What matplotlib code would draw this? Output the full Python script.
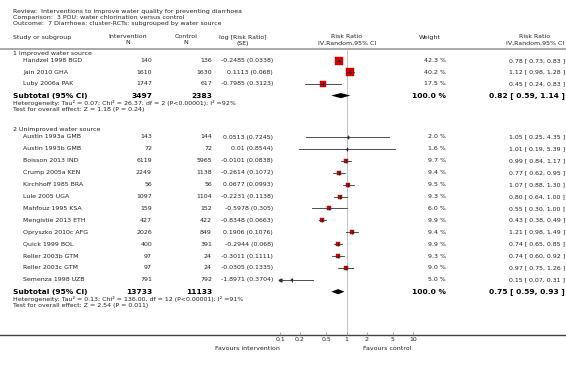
import matplotlib.pyplot as plt

# Header text
review = "Review:  Interventions to improve water quality for preventing diarrhoea"
comparison = "Comparison:  3 POU: water chlorination versus control"
outcome = "Outcome:  7 Diarrhoea: cluster-RCTs: subgrouped by water source"

# Subgroup 1
g1_name = "1 Improved water source"
g1_studies = ["Handzel 1998 BGD", "Jain 2010 GHA", "Luby 2006a PAK"]
g1_int_n = [140, 1610, 1747]
g1_ctl_n = [136, 1630, 617]
g1_logrr = ["-0.2485", "0.1113", "-0.7985"]
g1_se = ["0.0338", "0.068", "0.3123"]
g1_weight = [42.3, 40.2, 17.5]
g1_rr = [0.78, 1.12, 0.45]
g1_lo = [0.73, 0.98, 0.24]
g1_hi = [0.83, 1.28, 0.83]
g1_total = [3497, 2383]
g1_pooled = [0.82, 0.59, 1.14]
g1_het = "Heterogeneity: Tau² = 0.07; Chi² = 26.37, df = 2 (P<0.00001); I² =92%"
g1_test = "Test for overall effect: Z = 1.18 (P = 0.24)"

# Subgroup 2
g2_name = "2 Unimproved water source"
g2_studies = ["Austin 1993a GMB", "Austin 1993b GMB", "Boisson 2013 IND", "Crump 2005a KEN",
              "Kirchhoff 1985 BRA", "Lule 2005 UGA", "Mahfouz 1995 KSA", "Mengistie 2013 ETH",
              "Opryszko 2010c AFG", "Quick 1999 BOL", "Reller 2003b GTM", "Reller 2003c GTM",
              "Semenza 1998 UZB"]
g2_int_n = [143, 72, 6119, 2249, 56, 1097, 159, 427, 2026, 400, 97, 97, 791]
g2_ctl_n = [144, 72, 5965, 1138, 56, 1104, 152, 422, 849, 391, 24, 24, 792]
g2_logrr = ["0.0513", "0.01", "-0.0101", "-0.2614", "0.0677", "-0.2231", "-0.5978",
            "-0.8348", "0.1906", "-0.2944", "-0.3011", "-0.0305", "-1.8971"]
g2_se = ["0.7245", "0.8544", "0.0838", "0.1072", "0.0993", "0.1138", "0.305",
         "0.0663", "0.1076", "0.068", "0.1111", "0.1335", "0.3704"]
g2_weight = [2.0, 1.6, 9.7, 9.4, 9.5, 9.3, 6.0, 9.9, 9.4, 9.9, 9.3, 9.0, 5.0]
g2_rr = [1.05, 1.01, 0.99, 0.77, 1.07, 0.80, 0.55, 0.43, 1.21, 0.74, 0.74, 0.97, 0.15]
g2_lo = [0.25, 0.19, 0.84, 0.62, 0.88, 0.64, 0.30, 0.38, 0.98, 0.65, 0.60, 0.75, 0.07]
g2_hi = [4.35, 5.39, 1.17, 0.95, 1.30, 1.00, 1.00, 0.49, 1.49, 0.85, 0.92, 1.26, 0.31]
g2_total = [13733, 11133]
g2_pooled = [0.75, 0.59, 0.93]
g2_het = "Heterogeneity: Tau² = 0.13; Chi² = 136.00, df = 12 (P<0.00001); I² =91%"
g2_test = "Test for overall effect: Z = 2.54 (P = 0.011)"

ticks = [0.1, 0.2, 0.5, 1, 2, 5, 10]
tick_labels = ["0.1", "0.2", "0.5", "1", "2", "5", "10"]

W, H = 566, 365
fs = 4.5
fsb = 5.4
tc = "#222222"

fig = plt.figure(figsize=(W / 100, H / 100), dpi=100)
ax = fig.add_axes([0, 0, 1, 1])
ax.set_xlim(0, W)
ax.set_ylim(H, 0)
ax.axis("off")

# forest panel: log scale between x=280 and x=413 px, y in pixels
top, bottom = 49, 335
axf = fig.add_axes([280 / W, (H - bottom) / H, 133 / W, (bottom - top) / H])
axf.set_xscale("log")
axf.set_xlim(0.1, 10)
axf.set_ylim(bottom, top)
axf.patch.set_visible(False)
for s in axf.spines.values():
    s.set_visible(False)
axf.set_yticks([])
axf.set_xticks(ticks)
axf.set_xticklabels(tick_labels)
axf.minorticks_off()
axf.tick_params(axis="x", direction="in", length=2, width=0.5, color="#888888",
                labelsize=fs, labelcolor=tc, pad=1.5)
axf.axvline(1, color="#bbbbbb", lw=0.6, zorder=0)

# top texts
ax.text(13, 11, review, fontsize=fs, color=tc, va="center")
ax.text(13, 17.5, comparison, fontsize=fs, color=tc, va="center")
ax.text(13, 24, outcome, fontsize=fs, color=tc, va="center")

ax.text(13, 37, "Study or subgroup", fontsize=fs, color=tc, va="center")
for x, l1, l2 in [(128, "Intervention", "N"), (186, "Control", "N"),
                  (243, "log [Risk Ratio]", "(SE)"), (347, "Risk Ratio", "IV,Random,95% CI"),
                  (535, "Risk Ratio", "IV,Random,95% CI")]:
    ax.text(x, 37, l1, fontsize=fs, color=tc, va="center", ha="center")
    ax.text(x, 43, l2, fontsize=fs, color=tc, va="center", ha="center")
ax.text(430, 37, "Weight", fontsize=fs, color=tc, va="center", ha="center")

ax.axhline(top, color="#999999", lw=1.2)
ax.axhline(bottom, color="#444444", lw=1.0)

ax.text(280, 348, "Favours intervention", fontsize=fs, color=tc, va="center", ha="right")
ax.text(363, 348, "Favours control", fontsize=fs, color=tc, va="center", ha="left")


def draw_group(y0, step, name, studies, int_n, ctl_n, logrr, se, weight, rr, lo, hi,
               total, pooled, het, test):
    ax.text(13, y0, name, fontsize=fs, color=tc, va="center")
    y = y0 + 7.5
    for i in range(len(studies)):
        ax.text(23, y, studies[i], fontsize=fs, color=tc, va="center")
        ax.text(152, y, str(int_n[i]), fontsize=fs, color=tc, va="center", ha="right")
        ax.text(212, y, str(ctl_n[i]), fontsize=fs, color=tc, va="center", ha="right")
        ax.text(273, y, f"{logrr[i]} ({se[i]})", fontsize=fs, color=tc, va="center", ha="right")
        ax.text(446, y, f"{weight[i]:.1f} %", fontsize=fs, color=tc, va="center", ha="right")
        ax.text(565, y, f"{rr[i]:.2f} [ {lo[i]:.2f}, {hi[i]:.2f} ]", fontsize=fs, color=tc,
                va="center", ha="right")
        ms = 5.8 * (weight[i] / 42.3) ** 0.5
        axf.plot([rr[i]], [y], marker="s", ms=ms, mfc="#dd0000", mec="#aa0000", mew=0.3,
                 ls="none", zorder=2)
        left = max(lo[i], 0.1)
        axf.plot([left, hi[i]], [y, y], color="#333333", lw=0.6, zorder=3)
        axf.plot([rr[i]], [y], marker="|", ms=2.2, mew=0.6, color="#222222", zorder=4)
        if lo[i] < 0.1:
            axf.plot([0.1], [y], marker="<", ms=2.2, color="#333333", clip_on=False, zorder=3)
        y += step
    ys = y
    ax.text(13, ys, "Subtotal (95% CI)", fontsize=fsb, color="black", va="center", weight="bold")
    ax.text(152, ys, str(total[0]), fontsize=fsb, color="black", va="center", ha="right", weight="bold")
    ax.text(212, ys, str(total[1]), fontsize=fsb, color="black", va="center", ha="right", weight="bold")
    ax.text(446, ys, "100.0 %", fontsize=fsb, color="black", va="center", ha="right", weight="bold")
    ax.text(565, ys, f"{pooled[0]:.2f} [ {pooled[1]:.2f}, {pooled[2]:.2f} ]", fontsize=fsb,
            color="black", va="center", ha="right", weight="bold")
    axf.fill([pooled[1], pooled[0], pooled[2], pooled[0]], [ys, ys - 2.6, ys, ys + 2.6],
             color="black", lw=0, zorder=3)
    ax.text(13, ys + 7, het, fontsize=fs, color=tc, va="center")
    ax.text(13, ys + 13.5, test, fontsize=fs, color=tc, va="center")


draw_group(53, 11.7, g1_name, g1_studies, g1_int_n, g1_ctl_n, g1_logrr, g1_se, g1_weight,
           g1_rr, g1_lo, g1_hi, g1_total, g1_pooled, g1_het, g1_test)
draw_group(129.5, 11.9, g2_name, g2_studies, g2_int_n, g2_ctl_n, g2_logrr, g2_se, g2_weight,
           g2_rr, g2_lo, g2_hi, g2_total, g2_pooled, g2_het, g2_test)

fig.savefig("out.png", dpi=100)
